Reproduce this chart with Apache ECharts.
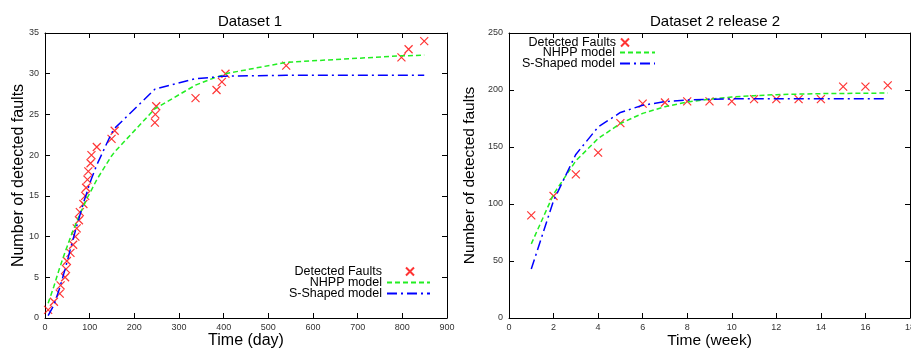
<!DOCTYPE html>
<html>
<head>
<meta charset="utf-8">
<script src="https://cdn.jsdelivr.net/npm/echarts@6/dist/echarts.min.js"></script>
<style>
  html, body { margin: 0; padding: 0; background: #fff; }
  #main { width: 911px; height: 349px; }
</style>
</head>
<body>
<div id="main"></div>
<script>
var chartDom = document.getElementById('main');
var myChart = echarts.init(chartDom);

// Dataset 1 (days)
var days1 = [7, 20, 33, 35, 45, 47, 49, 57, 63, 68, 71, 76, 78, 86, 90, 92, 95, 97, 102, 104,
  116, 149, 156, 246, 247, 249, 337, 384, 396, 404, 540, 798, 814, 849];
var faults1 = [1, 2, 3, 4, 5, 6, 7, 8, 9, 10, 11, 12, 13, 14, 15, 16, 17, 18, 19, 20,
  21, 22, 23, 24, 25, 26, 27, 28, 29, 30, 31, 32, 33, 34];
var nhpp1 = [1.8, 3.9, 6.2, 6.5, 8.1, 8.4, 8.7, 9.9, 10.8, 11.4, 11.8, 12.5, 12.7, 13.7, 14.2, 14.4, 14.8, 15.0, 15.5, 15.7,
  17.0, 19.9, 20.4, 25.7, 25.7, 25.8, 28.6, 29.6, 29.8, 30.0, 31.4, 32.2, 32.2, 32.3];
var sshape1 = [0.3, 1.6, 3.7, 4.1, 6.0, 6.4, 6.8, 8.5, 9.7, 10.7, 11.3, 12.2, 12.6, 14.1, 14.8, 15.1, 15.6, 16.0, 16.8, 17.1,
  18.8, 22.7, 23.3, 28.1, 28.1, 28.2, 29.4, 29.6, 29.7, 29.7, 29.8, 29.8, 29.8, 29.8];

// Dataset 2 release 2 (weeks)
var weeks2 = [1, 2, 3, 4, 5, 6, 7, 8, 9, 10, 11, 12, 13, 14, 15, 16, 17];
var faults2 = [90, 107, 126, 145, 171, 188, 189, 190, 190, 190, 192, 192, 192, 192, 203, 203, 204];
var nhpp2 = [65, 108.6, 137.9, 157.4, 170.6, 179.5, 185.4, 189.4, 192.0, 193.8, 195.0, 195.9, 196.4, 196.8, 197.0, 197.2, 197.3];
var sshape2 = [43, 103, 143.5, 167.5, 180.3, 186.6, 189.8, 191.2, 191.9, 192.2, 192.4, 192.4, 192.4, 192.4, 192.4, 192.4, 192.4];

var names = ['Detected Faults', 'NHPP model', 'S-Shaped model'];
var crossPath = 'path://M0,0L10,10M10,0L0,10';
var font = 'Liberation Sans';

function pairs(xs, ys) {
  return xs.map(function (x, i) { return [x, ys[i]]; });
}

function xAxes(grid, min, max, interval, name) {
  return [{
    type: 'value', gridIndex: grid, min: min, max: max, interval: interval,
    name: name, nameLocation: 'middle', nameGap: 15, nameMoveOverlap: false,
    nameTextStyle: { fontFamily: font, fontSize: grid == 0 ? 16 : 15.5, color: '#000' },
    axisLine: { onZero: false, lineStyle: { color: '#000', width: 1 } },
    axisTick: { inside: true, length: 5, lineStyle: { color: '#000' } },
    axisLabel: { fontFamily: font, fontSize: 9, color: '#333', margin: 5 },
    splitLine: { show: false }
  }, {
    type: 'value', gridIndex: grid, position: 'top', min: min, max: max, interval: interval,
    axisLine: { onZero: false, lineStyle: { color: '#000', width: 1 } },
    axisTick: { inside: true, length: 5, lineStyle: { color: '#000' } },
    axisLabel: { show: false },
    splitLine: { show: false }
  }];
}

function yAxes(grid, min, max, interval, gap) {
  return [{
    type: 'value', gridIndex: grid, min: min, max: max, interval: interval,
    name: 'Number of detected faults', nameLocation: 'middle', nameGap: gap, nameMoveOverlap: false,
    nameTextStyle: { fontFamily: font, fontSize: grid == 0 ? 16 : 15.5, color: '#000' },
    axisLine: { show: true, onZero: false, lineStyle: { color: '#000', width: 1 } },
    axisTick: { show: true, inside: true, length: 5, lineStyle: { color: '#000' } },
    axisLabel: { fontFamily: font, fontSize: 9, color: '#333', margin: 6 },
    splitLine: { show: false }
  }, {
    type: 'value', gridIndex: grid, position: 'right', min: min, max: max, interval: interval,
    axisLine: { show: true, onZero: false, lineStyle: { color: '#000', width: 1 } },
    axisTick: { show: true, inside: true, length: 5, lineStyle: { color: '#000' } },
    axisLabel: { show: false },
    splitLine: { show: false }
  }];
}

function seriesFor(grid, xs, faults, nhpp, sshape) {
  var xi = grid * 2, yi = grid * 2;
  return [{
    name: names[0], type: 'scatter', xAxisIndex: xi, yAxisIndex: yi,
    symbol: crossPath, symbolSize: 8,
    itemStyle: { color: 'transparent', borderColor: '#ff0000', borderWidth: 1.2 },
    data: pairs(xs, faults), z: 2
  }, {
    name: names[1], type: 'line', xAxisIndex: xi, yAxisIndex: yi,
    symbol: 'none', lineStyle: { color: '#22ee22', width: 1.5, type: [5, 3] },
    itemStyle: { color: '#22ee22' },
    data: pairs(xs, nhpp), z: 3
  }, {
    name: names[2], type: 'line', xAxisIndex: xi, yAxisIndex: yi,
    symbol: 'none', lineStyle: { color: '#0000ff', width: 1.5, type: [10, 4, 2, 4] },
    itemStyle: { color: '#0000ff' },
    data: pairs(xs, sshape), z: 3
  }];
}

function legendItem(name, right, top, width, isLine, textPad) {
  var lg = {
    data: [name], right: right, top: top, orient: 'vertical', align: 'right',
    itemWidth: width, itemHeight: 8, padding: 0, selectedMode: false,
    textStyle: { fontFamily: font, fontSize: 12.5, color: '#000', padding: [0, textPad || 0, 0, 0] }
  };
  if (isLine) {
    lg.itemStyle = { opacity: 0 };
  }
  return lg;
}

var option = {
  animation: false,
  backgroundColor: '#fff',
  title: [
    { text: 'Dataset 1', left: 245, top: 9, textAlign: 'center',
      textStyle: { fontFamily: font, fontSize: 15, fontWeight: 'normal', color: '#000' } },
    { text: 'Dataset 2 release 2', left: 710, top: 9, textAlign: 'center',
      textStyle: { fontFamily: font, fontSize: 15, fontWeight: 'normal', color: '#000' } }
  ],
  legend: [
    legendItem(names[0], 496, 265, 8, false, 19),
    legendItem(names[1], 480, 276, 43, true),
    legendItem(names[2], 480, 287, 43, true),
    legendItem(names[0], 281, 36, 8, false),
    legendItem(names[1], 255, 46, 35, true),
    legendItem(names[2], 255, 57, 35, true)
  ],
  grid: [
    { left: 45, top: 33, width: 402, height: 285, outerBoundsMode: 'none' },
    { left: 509, top: 33, width: 401, height: 285, outerBoundsMode: 'none' }
  ],
  xAxis: xAxes(0, 0, 900, 100, 'Time (day)').concat(xAxes(1, 0, 18, 2, 'Time (week)')),
  yAxis: yAxes(0, 0, 35, 5, 18).concat(yAxes(1, 0, 250, 50, 31)),
  series: seriesFor(0, days1, faults1, nhpp1, sshape1)
    .concat(seriesFor(1, weeks2, faults2, nhpp2, sshape2))
};

myChart.setOption(option);
</script>
</body>
</html>
